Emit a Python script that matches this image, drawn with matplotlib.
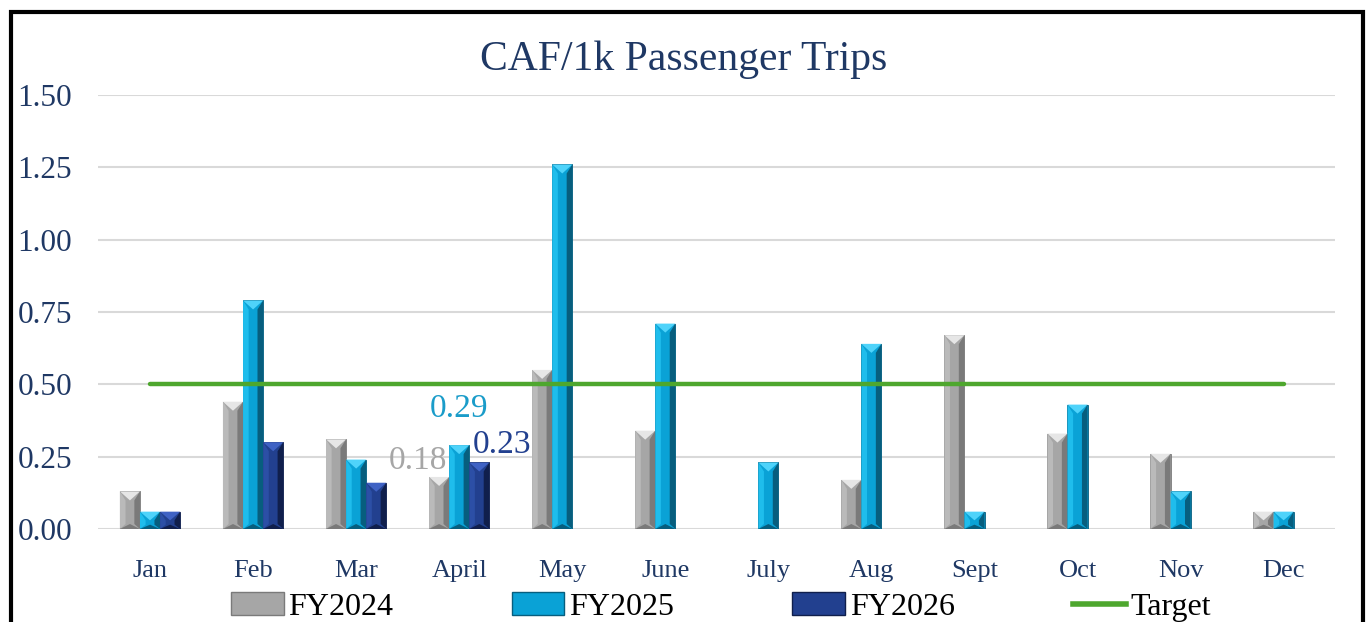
import numpy as np
import matplotlib
matplotlib.use("Agg")
import matplotlib.pyplot as plt
from matplotlib.patches import Polygon, Rectangle
from matplotlib.lines import Line2D

plt.rcParams.update({"font.family": ["Liberation Serif", "DejaVu Serif"]})

months = ["Jan", "Feb", "Mar", "April", "May", "June", "July", "Aug", "Sept", "Oct", "Nov", "Dec"]
fy2024 = [0.13, 0.44, 0.31, 0.18, 0.55, 0.34, np.nan, 0.17, 0.67, 0.33, 0.26, 0.06]
fy2025 = [0.06, 0.79, 0.24, 0.29, 1.26, 0.71, 0.23, 0.64, 0.06, 0.43, 0.13, 0.06]
fy2026 = [0.06, 0.30, 0.16, 0.23, np.nan, np.nan, np.nan, np.nan, np.nan, np.nan, np.nan, np.nan]
target = [0.50] * 12

NAVY = "#1F3864"
# face, left bevel, right bevel, top bevel
STYLES = {
    "FY2024": ("#A6A6A6", "#BABABA", "#7A7A7A", "#E6E6E6"),
    "FY2025": ("#0AA2D6", "#1FBDEC", "#075E7E", "#4FD3FA"),
    "FY2026": ("#22408F", "#2C4FA6", "#101F4C", "#3F62C4"),
}

fig = plt.figure(figsize=(13.68, 6.22), dpi=100)
ax = fig.add_axes([0.072, 0.1495, 0.904, 0.6977])
x = np.arange(len(months))
w = 0.195
ax.set_xlim(-0.5, len(months) - 0.5)
ax.set_ylim(0, 1.5)

# pixels per data unit, used for bevel depth
px_y = ax.bbox.height / 1.5


def bevel_bars(vals, offset, name):
    face, left, right, top = STYLES[name]
    bars = ax.bar(x + offset, vals, w, color=face, edgecolor=right, lw=0.6, zorder=2)
    for r in bars:
        h = r.get_height()
        if not np.isfinite(h) or h <= 0:
            continue
        x0, bw = r.get_x(), r.get_width()
        d = bw * 0.28
        dy = min(9 / px_y, h / 2)
        dyb = min(5 / px_y, h / 4)
        ax.add_patch(Polygon([(x0, 0), (x0 + d, dyb), (x0 + d, h - dy), (x0, h)],
                             closed=True, fc=left, ec="none", zorder=2.1))
        ax.add_patch(Polygon([(x0 + bw, 0), (x0 + bw - d, dyb), (x0 + bw - d, h - dy), (x0 + bw, h)],
                             closed=True, fc=right, ec="none", zorder=2.1))
        ax.add_patch(Polygon([(x0, h), (x0 + bw, h), (x0 + bw / 2, h - dy)],
                             closed=True, fc=top, ec="none", zorder=2.2))
        ax.add_patch(Polygon([(x0, 0), (x0 + bw, 0), (x0 + bw / 2, dyb)],
                             closed=True, fc=right, ec="none", zorder=2.2))
    return bars


bevel_bars(fy2024, -w, "FY2024")
bevel_bars(fy2025, 0, "FY2025")
bevel_bars(fy2026, w, "FY2026")

ax.plot(x, target, color="#4EA72E", lw=3.2, solid_capstyle="round", zorder=3)

# data labels for April
i = months.index("April")
ax.annotate(f"{fy2024[i]:.2f}", (x[i] - w, fy2024[i]), xytext=(-15, 12), textcoords="offset points",
            ha="center", va="center", fontsize=24, color="#A6A6A6", zorder=4)
ax.annotate(f"{fy2025[i]:.2f}", (x[i], fy2025[i]), xytext=(0, 26), textcoords="offset points",
            ha="center", va="center", fontsize=24, color="#1A9CC9", zorder=4)
ax.annotate(f"{fy2026[i]:.2f}", (x[i] + w, fy2026[i]), xytext=(16, 13), textcoords="offset points",
            ha="center", va="center", fontsize=24, color="#22408F", zorder=4)

ax.set_yticks([0, 0.25, 0.5, 0.75, 1.0, 1.25, 1.5])
ax.set_yticklabels([f"{v:.2f}" for v in ax.get_yticks()])
ax.set_xticks(x)
ax.set_xticklabels(months)
ax.tick_params(axis="y", length=0, pad=19, labelsize=22.5, labelcolor=NAVY)
ax.tick_params(axis="x", length=0, pad=22, labelsize=19, labelcolor=NAVY)
ax.grid(axis="y", color="#D9D9D9", lw=1.5, zorder=0)
for s in ax.spines.values():
    s.set_visible(False)

fig.text(0.5, 1 - 60 / 622, "CAF/1k Passenger Trips", ha="center", va="center",
         fontsize=30, color=NAVY)

handles = [Rectangle((0, 0), 1, 1, fc=STYLES[k][0], ec=STYLES[k][2], lw=1) for k in STYLES]
handles.append(Line2D([0], [0], color="#4EA72E", lw=4))
fig.legend(handles, ["FY2024", "FY2025", "FY2026", "Target"], loc="center",
           bbox_to_anchor=(0.527, 1 - 607 / 622), ncol=4, frameon=False, fontsize=23,
           handlelength=1.65, handleheight=0.7, handletextpad=0.15, columnspacing=3.7)

fig.patches.append(Rectangle((11 / 1368, -0.1), 1352 / 1368, 1.1 - 12 / 622, transform=fig.transFigure,
                             fill=False, ec="black", lw=3, zorder=10))

fig.savefig("out.png", dpi=100)
